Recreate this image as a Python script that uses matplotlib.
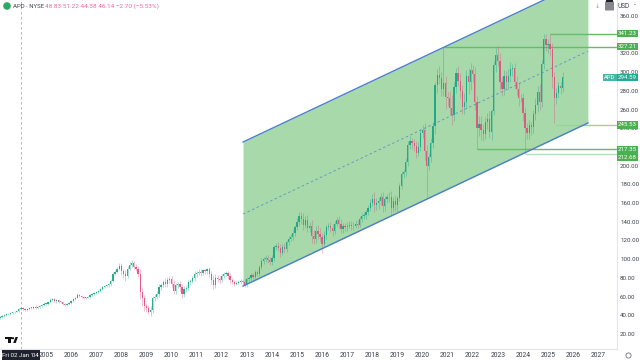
import matplotlib
matplotlib.use("Agg")
import matplotlib.pyplot as plt
from matplotlib.patches import Rectangle, Polygon, Circle, FancyBboxPatch

plt.rcParams['font.family'] = ['Roboto', 'DejaVu Sans']

first_open = 37.5
closes = [
 38,39,40,41,41,42,43,44,45,47,                 # 2003 Mar-Dec
 48,47,46,47,48,48,49,48,49,50,51,52,           # 2004
 52,54,56,57,55,56,54,54,52,51,52,53,           # 2005
 55,57,59,62,61,60,58.5,59,60,62,63,64,         # 2006
 65,66,68,70,71,72,73,77,84,86,90,93,           # 2007
 87,84,82,90,94,96,92,90,84,65,58,50,           # 2008
 48,44,46,58,60,63,70,72,76,73,78,79,           # 2009
 74,66,72,73,70,63,68,69,76,77,80,84,           # 2010
 85,86,85,88,87,89,84,78,72,80,79,78,           # 2011
 82,84,85,82,78,76,74,75,76,77,76,72,           # 2012
 79,80,83,81,86,84,92,98,100,101,99,97,         # 2013
 101,113,114,112,107,113,111,118,122,124,128,134, # 2014
 140,146,143,137,142,133,136,125,122,130,127,124, # 2015
 116,126,134,136,133,130,138,142,138,132,135,134, # 2016
 136,137,135,136,138,137,143,146,147,150,155,160, # 2017
 164,158,160,162,167,157,164,166,167,155,162,158, # 2018
 165,178,191,193,204,222,226,224,221,214,220,235, # 2019
 238,216,200,209,224,242,286,297,294,282,288,273, # 2020
 272,262,254,284,299,291,280,263,268,296,289,302, # 2021
 298,268,240,245,238,234,247,250,236,258,308,318, # 2022
 312,289,282,296,290,296,303,304,290,282,272,272, # 2023
 256,240,235,243,241,255,265,279,268,309,335,329, # 2024
 330,325,295,272,278,285,283,294.59,             # 2025 Jan-Aug
]
upper_wicks = [
 1,1,1,1,1,1,1,1,1,1,
 1,1,1,1,1,1,1,2,1,1,1,2,
 1,1,2,1,2,1,1,1,1,1,1,1,
 1,1,1,2,1,1,1,1,1,1,1,1,
 1,1,1,1,1,1,2,2,2,2,2,3,
 3,3,4,3,3,3,2,3,3,6,5,4,
 3,3,4,3,3,3,3,3,2,4,3,3,
 3,4,3,3,4,4,3,3,2,2,2,3,
 2,3,3,2,2,2,3,3,5,4,3,3,
 2,2,2,2,3,2,2,2,2,2,2,3,
 2,2,2,2,2,2,2,3,2,3,3,3,
 3,2,3,4,4,3,4,3,3,3,3,3,
 4,5,5,6,4,5,4,6,6,5,7,6,
 4,4,3,3,4,5,3,3,4,5,4,4,
 4,4,4,4,4,4,3,3,4,3,3,4,
 6,8,5,5,4,5,4,4,5,6,5,7,
 3,3,3,3,4,4,6,4,5,5,5,4,
 5,8,6,5,6,5,4,6,10,6,39,8,
 6,8,14,5,5,8,8,6,10,6,8,8,
 6,8,6,8,8,7,5,6,8,3,4,8,
 10,9,6,6,5,7,8,5,6,6,7,5,
 6,7,6,6,4,5,7,6,8,4,6,6,
 6,11.23,6,5,5,4,4,5.4,
]
lower_wicks = [
 1,1,1,1,1,1,1,1,1,1,
 1,1,1,1,1,1,1,1,1,1,1,1,
 1,1,1,1,1,2,1,1,1,1,1,1,
 1,1,1,1,1,2,1,1,1,1,1,1,
 1,1,1,1,1,1,2,2,1,1,1,2,
 4,4,5,2,2,2,3,3,3,8,8,5,
 4,3,5,4,3,3,3,3,2,3,3,3,
 4,3,3,3,4,4,3,3,2,2,2,3,
 3,2,3,2,3,3,3,5,4,3,3,3,
 2,2,2,3,3,3,3,2,2,2,2,2,
 2,2,2,2,2,2,2,3,3,3,3,3,
 3,3,3,3,5,3,4,3,3,3,3,3,
 3,4,5,6,4,4,4,8,6,5,5,5,
 9,3,4,3,4,5,3,3,5,4,4,4,
 4,3,4,4,3,4,3,3,3,4,3,3,
 3,8,5,6,4,6,5,4,5,8,5,6,
 6,3,3,4,4,4,4,6,5,6,4,4,
 5,10,33,5,5,5,8,8,7,8,8,12,
 8,8,10,6,6,6,8,8,8,6,12,8,
 8,8,22.65,8,10,8,5,8,6,8,4,8,
 5,8,8,6,8,8,6,7,8,6,8,4,
 8,27.32,6,6,8,6,6,8,8,5,6,6,
 8,8,12,26.5,6,6,6,4,
]

year_ticks = list(range(2005, 2028))
price_ticks = [20,40,60,80,100,120,140,160,180,200,240,260,280,300,320,360]

channel_x = [2012.85, 2026.59]
channel_lower = [71.3, 245.7]
channel_upper = [225.3, 399.4]
channel_mid = [148.3, 322.5]

level_prices = [341.23, 327.21, 243.6, 217.35, 212.68]
level_starts = [2025.08, 2020.85, 2025.27, 2022.17, 2024.08]
level_labels = ['341.23', '327.21', '245.53', '217.35', '212.68']
label_shift = [0, 0, 0, 0, -3.6]
level_colors = ['#66bb6a', '#66bb6a', '#9ad29c', '#66bb6a', '#b5dfb6']

GREEN = '#14a585'
RED = '#df4f7e'
FILL = '#a8d9aa'
BLUE = '#4a7fcb'
TXT = '#3a3f4a'

fig = plt.figure(figsize=(6.4, 3.6), dpi=100, facecolor='white')
ax = fig.add_axes([0, 11/360, 617/640, 349/360])
ax.set_xlim(2003.167, 2027.749)
ax.set_ylim(3.96, 377.2)
for s in ['top', 'left']:
    ax.spines[s].set_visible(False)
for s in ['right', 'bottom']:
    ax.spines[s].set_color('#e3e5ea')
    ax.spines[s].set_linewidth(0.8)
ax.yaxis.tick_right()
ax.set_yticks(price_ticks)
ax.set_yticklabels([f'{p:.2f}' for p in price_ticks], fontsize=4.4, color=TXT)
ax.set_xticks(year_ticks)
ax.set_xticklabels([str(y) for y in year_ticks], fontsize=4.9, color=TXT)
ax.tick_params(axis='both', length=0)
ax.tick_params(axis='y', pad=2.2)
ax.tick_params(axis='x', pad=2.2)

# channel
ax.fill_between(channel_x, channel_lower, channel_upper, color=FILL, lw=0, zorder=1)
ax.plot(channel_x, channel_lower, color=BLUE, lw=1.0, zorder=4)
ax.plot(channel_x, channel_upper, color=BLUE, lw=1.0, zorder=4)
ax.plot(channel_x, channel_mid, color=BLUE, lw=0.6, ls=(0, (3, 3)), alpha=0.8, zorder=2)

# session line
ax.axvline(2004.0, color='#a9abb2', lw=0.6, ls=(0, (3, 3)), zorder=1)

# levels
for p, s, c in zip(level_prices, level_starts, level_colors):
    ax.plot([s, 2027.749], [p, p], color=c, lw=1.0, zorder=2, solid_capstyle='butt')

# candles
dates = [2003 + (2 + i) / 12 for i in range(len(closes))]
opens = [first_open] + closes[:-1]
for d, o, c, u, l in zip(dates, opens, closes, upper_wicks, lower_wicks):
    col = GREEN if c >= o else RED
    top, bot = max(o, c), min(o, c)
    ax.plot([d, d], [bot - l, top + u], color=col, lw=0.5, alpha=0.5, zorder=3, solid_capstyle='butt')
    ax.bar(d, max(top - bot, 0.8), bottom=bot, width=0.05, color=col, lw=0, alpha=0.9, zorder=3)

# price labels on the scale
ytr = ax.get_yaxis_transform()
for p, t, sh in zip(level_prices, level_labels, label_shift):
    ax.add_patch(Rectangle((1.0, p + sh - 4.0), 21/617, 8.0, transform=ytr, color='#4caf50', lw=0,
                           clip_on=False, zorder=6))
    ax.text(1 + 10.5/617, p + sh, t, transform=ytr, ha='center', va='center', fontsize=4.4, color='white',
            clip_on=False, zorder=7)
last = closes[-1]
ax.add_patch(Rectangle((1.0, last - 3.8), 21/617, 7.6, transform=ytr, color='#22ab94', lw=0, clip_on=False, zorder=6))
ax.add_patch(Rectangle((603/617, last - 3.8), 14/617, 7.6, transform=ytr, color='#22ab94', alpha=0.85, lw=0, clip_on=False, zorder=6))
ax.text(1 + 10.5/617, last, f'{last:.2f}', transform=ytr, ha='center', va='center', fontsize=4.4, color='white',
        clip_on=False, zorder=7)
ax.text(610/617, last, 'APD', transform=ytr, ha='center', va='center', fontsize=4.2, color='white',
        clip_on=False, zorder=7)

# chrome in pixel coordinates
ov = fig.add_axes([0, 0, 1, 1], facecolor='none')
ov.set_xlim(0, 640)
ov.set_ylim(360, 0)
ov.axis('off')
ov.add_patch(Circle((7, 6), 3.8, color='#2fa866', lw=0))
ov.text(13, 6, 'APD · NYSE', fontsize=4.3, color=TXT, va='center', ha='left')
ov.text(45, 6, '48.83 51.22 44.38 46.14 −2.70 (−5.53%)', fontsize=4.6, color='#ea6a9c', va='center', ha='left')
ov.text(624, 6, 'USD', fontsize=4.7, color=TXT, va='center', ha='center')
ov.text(635, 6, '-', fontsize=4.7, color=TXT, va='center', ha='center')
ov.add_patch(FancyBboxPatch((605.5, 2), 8, 8, boxstyle='round,pad=0.5', color='#85878c', lw=0))
ov.add_patch(Rectangle((606, 0), 7, 1.5, color='#222222', lw=0))
ov.text(597.5, 6, '↓', fontsize=4.5, color='#9a9ca2', va='center', ha='center')
ov.add_patch(Rectangle((1.5, 350), 38.5, 10, color='#1e222d', lw=0, zorder=5))
ov.text(20.7, 355.3, "Fri 02 Jan '04", fontsize=4.5, color='white', va='center', ha='center', zorder=6)
ov.add_patch(Circle((628.5, 355.5), 2.6, fill=False, ec='#555a66', lw=0.5))
ov.add_patch(Rectangle((5, 337), 6.5, 2, color='#111111', lw=0))
ov.add_patch(Rectangle((8, 337), 2.6, 6, color='#111111', lw=0))
ov.add_patch(Circle((13, 338.2), 1.1, color='#111111', lw=0))
ov.add_patch(Polygon([[13.2, 343], [15.5, 337], [18, 337], [15.7, 343]], color='#111111', lw=0))

fig.savefig('out.png', dpi=100)
